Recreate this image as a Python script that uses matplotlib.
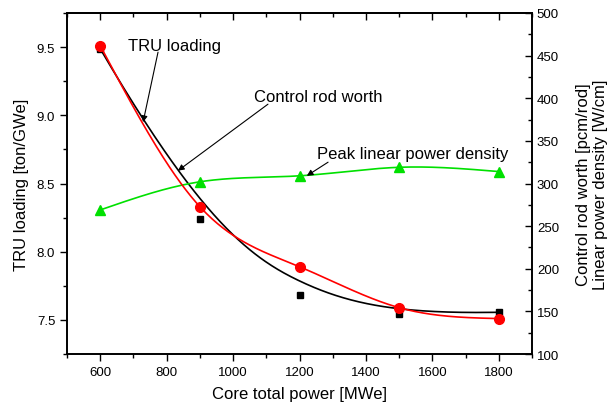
import numpy as np
import matplotlib
matplotlib.use('Agg')
import matplotlib.pyplot as plt
from matplotlib.ticker import MultipleLocator, NullFormatter

plt.rcParams['font.family'] = ['Liberation Sans', 'DejaVu Sans']

# data
power = [600, 900, 1200, 1500, 1800]
tru_loading = [9.51, 8.33, 7.89, 7.59, 7.51]          # ton/GWe, left axis
rod_worth = [458, 258, 169, 147, 149]                 # pcm/rod, right axis
peak_lpd = [269, 302, 309, 319, 314]                  # W/cm, right axis


def natural_spline(x, y, xs):
    # plain natural cubic spline through the points
    x = np.asarray(x, float)
    y = np.asarray(y, float)
    n = len(x)
    h = np.diff(x)
    A = np.zeros((n, n))
    r = np.zeros(n)
    A[0, 0] = 1
    A[-1, -1] = 1
    for i in range(1, n - 1):
        A[i, i - 1] = h[i - 1]
        A[i, i] = 2 * (h[i - 1] + h[i])
        A[i, i + 1] = h[i]
        r[i] = 3 * ((y[i + 1] - y[i]) / h[i] - (y[i] - y[i - 1]) / h[i - 1])
    c = np.linalg.solve(A, r)
    out = np.empty_like(xs)
    for k, xv in enumerate(xs):
        i = min(max(np.searchsorted(x, xv) - 1, 0), n - 2)
        b = (y[i + 1] - y[i]) / h[i] - h[i] * (2 * c[i] + c[i + 1]) / 3
        d = (c[i + 1] - c[i]) / (3 * h[i])
        t = xv - x[i]
        out[k] = y[i] + b * t + c[i] * t ** 2 + d * t ** 3
    return out


def bspline(x, y, num=300, k=3):
    # clamped cubic B-spline with the points as control points (Origin style)
    P = np.column_stack([x, y]).astype(float)
    n = len(P)
    knots = np.concatenate([np.zeros(k), np.linspace(0, 1, n - k + 1), np.ones(k)])

    def basis(i, p, t):
        if p == 0:
            if knots[i] <= t < knots[i + 1] or (t == 1 and knots[i] < 1 <= knots[i + 1]):
                return 1.0
            return 0.0
        a = 0.0
        if knots[i + p] != knots[i]:
            a = (t - knots[i]) / (knots[i + p] - knots[i]) * basis(i, p - 1, t)
        b = 0.0
        if knots[i + p + 1] != knots[i + 1]:
            b = (knots[i + p + 1] - t) / (knots[i + p + 1] - knots[i + 1]) * basis(i + 1, p - 1, t)
        return a + b

    ts = np.linspace(0, 1, num)
    pts = np.array([sum(basis(i, k, t) * P[i] for i in range(n)) for t in ts])
    return pts[:, 0], pts[:, 1]


xs = np.linspace(600, 1800, 300)

fig = plt.figure(figsize=(6.12, 4.10), dpi=100)
ax = fig.add_axes([0.1095, 0.134, 0.7598, 0.832])
ax2 = ax.twinx()

bx, by = bspline(power, rod_worth)
ax2.plot(bx, by, color='black', lw=1.2)
ax2.plot(power, rod_worth, 's', color='black', ms=5)
ax2.plot(xs, natural_spline(power, peak_lpd, xs), color='#00e000', lw=1.2)
ax2.plot(power, peak_lpd, '^', color='#00e000', ms=7)

ax.plot(xs, natural_spline(power, tru_loading, xs), color='red', lw=1.2, zorder=3)
ax.plot(power, tru_loading, 'o', color='red', ms=7, zorder=3)
ax.set_zorder(ax2.get_zorder() + 1)
ax.patch.set_visible(False)

ax.set_xlim(500, 1900)
ax.set_ylim(7.25, 9.75)
ax2.set_ylim(100, 500)

ax.xaxis.set_major_locator(MultipleLocator(200))
ax.xaxis.set_minor_locator(MultipleLocator(100))
ax.yaxis.set_major_locator(MultipleLocator(0.5))
ax.yaxis.set_minor_locator(MultipleLocator(0.25))
ax2.yaxis.set_major_locator(MultipleLocator(50))
ax2.yaxis.set_minor_locator(MultipleLocator(25))

ax.tick_params(which='both', direction='out', labelsize=9.5, width=1)
ax.tick_params(which='major', length=5)
ax.tick_params(which='minor', length=3)
ax2.tick_params(which='both', direction='in', labelsize=9.5, width=1)
ax2.tick_params(which='major', length=5)
ax2.tick_params(which='minor', length=3)

# top ticks point inward, no labels
top = ax.secondary_xaxis('top')
top.xaxis.set_major_locator(MultipleLocator(200))
top.xaxis.set_minor_locator(MultipleLocator(100))
top.xaxis.set_major_formatter(NullFormatter())
top.tick_params(which='both', direction='in', width=1)
top.tick_params(which='major', length=5)
top.tick_params(which='minor', length=3)

for a in (ax, ax2, top):
    for s in a.spines.values():
        s.set_linewidth(1.2)

ax.set_xlabel('Core total power [MWe]', fontsize=12, labelpad=6)
ax.set_ylabel('TRU loading [ton/GWe]', fontsize=12, labelpad=6)
ax2.set_ylabel('Control rod worth [pcm/rod]\nLinear power density [W/cm]', fontsize=12, labelpad=12)

arrow = dict(arrowstyle='-|>', color='black', lw=0.8, mutation_scale=9, shrinkA=0, shrinkB=0)
ax2.annotate('', xy=(729, 372), xytext=(774, 454), arrowprops=arrow)
ax2.text(683, 462, 'TRU loading', fontsize=12, va='center')
ax2.annotate('', xy=(834, 315), xytext=(1105, 393), arrowprops=arrow)
ax2.text(1063, 402, 'Control rod worth', fontsize=12, va='center')
ax2.annotate('', xy=(1222, 309), xytext=(1286, 325), arrowprops=arrow)
ax2.text(1253, 335, 'Peak linear power density', fontsize=12, va='center')

fig.savefig('out.png', dpi=100)
